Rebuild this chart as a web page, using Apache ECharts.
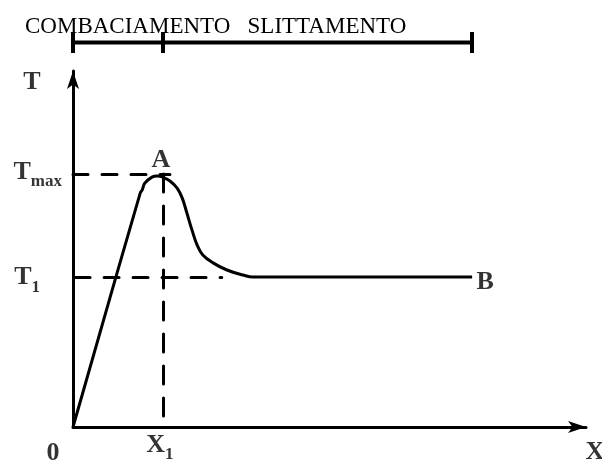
<!DOCTYPE html>
<html>
<head>
<meta charset="utf-8">
<title>Combaciamento / Slittamento</title>
<script src="https://cdn.jsdelivr.net/npm/echarts@6/dist/echarts.min.js"></script>
<style>
  html, body { margin: 0; padding: 0; background: #fff; }
  #chart { width: 602px; height: 464px; }
</style>
</head>
<body>
<div id="chart"></div>
<script>
// schematic values, axis runs 0..10 in both directions
const xMax = 10;
const yMax = 10;
const X1 = 1.75;
const xEnd = 7.78;
const Tmax = 7.11;
const T1 = 4.21;

// curve 0 -> A -> B
const curveX = [0, 1.31, 1.35, 1.40, 1.54, 1.64, 1.75, 1.89, 2.03, 2.13, 2.22, 2.32, 2.42, 2.53, 2.73, 3.00, 3.31, 3.51, 7.78];
const curveY = [0, 6.57, 6.66, 6.85, 7.02, 7.05, 7.02, 6.91, 6.71, 6.43, 6.01, 5.53, 5.11, 4.83, 4.61, 4.41, 4.27, 4.21, 4.21];

// phases on the top bar
const phaseNames = ['COMBACIAMENTO', 'SLITTAMENTO'];
const phaseBounds = [0, X1, xEnd];

const chartDom = document.getElementById('chart');
const chart = echarts.init(chartDom);

const black = '#000';
const serif = 'Liberation Serif';

const labelFont = {
  fontFamily: serif,
  fontWeight: 'bold',
  fontSize: 26,
  color: black
};
const subRich = {
  b: { fontFamily: serif, fontWeight: 'bold', fontSize: 26, lineHeight: 26, verticalAlign: 'top', color: black },
  s: { fontFamily: serif, fontWeight: 'bold', fontSize: 17, lineHeight: 31, verticalAlign: 'bottom', color: black }
};

function textPoint(x, y, text, offset, align) {
  return {
    value: [x, y],
    label: {
      show: true,
      position: 'inside',
      formatter: text,
      offset: offset,
      align: align || 'center',
      verticalAlign: 'middle',
      rich: subRich
    }
  };
}

const labels = [
  textPoint(0, 0, '0', [-20, 26]),
  textPoint(X1, 0, '{b|X}{s|1}', [-3, 21]),
  textPoint(xMax, 0, 'X', [9, 25]),
  textPoint(0, yMax, 'T', [-41, 11]),
  textPoint(0, Tmax, '{b|T}{s|max}', [-11, 1], 'right'),
  textPoint(0, T1, '{b|T}{s|1}', [-33, 3], 'right'),
  textPoint(X1, Tmax, '{b|A}', [-2, -14]),
  textPoint(xEnd, T1, 'B', [13, 5])
];

const dashH = { type: [15, 14], width: 3, color: black, cap: 'round' };
const dashV = { type: [18, 14], width: 3, color: black, cap: 'round' };

const option = {
  animation: false,
  title: {
    text: phaseNames.join('   '),
    left: 20,
    top: 10,
    textStyle: { fontFamily: serif, fontWeight: 'normal', fontSize: 23, color: black }
  },
  grid: [
    { left: 73, right: 16, top: 71, bottom: 37 },
    { left: 73, right: 16, top: 32, height: 21 }
  ],
  xAxis: [
    {
      type: 'value', min: 0, max: xMax,
      axisLine: { show: true, symbol: ['none', 'arrow'], symbolSize: [9, 18], lineStyle: { color: black, width: 3 } },
      axisTick: { show: false },
      axisLabel: { show: false },
      splitLine: { show: false }
    },
    { type: 'value', gridIndex: 1, min: 0, max: xMax, show: false }
  ],
  yAxis: [
    {
      type: 'value', min: 0, max: yMax,
      axisLine: { show: true, symbol: ['none', 'arrow'], symbolSize: [9, 18], lineStyle: { color: black, width: 3 } },
      axisTick: { show: false },
      axisLabel: { show: false },
      splitLine: { show: false }
    },
    { type: 'value', gridIndex: 1, min: 0, max: 1, show: false }
  ],
  series: [
    {
      type: 'line',
      data: curveX.map((x, i) => [x, curveY[i]]),
      smooth: 0.4,
      symbol: 'none',
      lineStyle: { color: black, width: 3 },
      markLine: {
        silent: true,
        symbol: ['none', 'none'],
        label: { show: false },
        data: [
          [{ coord: [0, Tmax], lineStyle: dashH }, { coord: [1.89, Tmax] }],
          [{ coord: [0.04, T1], lineStyle: dashH }, { coord: [2.9, T1] }],
          [{ coord: [X1, Tmax], lineStyle: dashV }, { coord: [X1, 0] }]
        ]
      }
    },
    {
      type: 'line',
      xAxisIndex: 1,
      yAxisIndex: 1,
      data: [[phaseBounds[0], 0.5], [phaseBounds[phaseBounds.length - 1], 0.5]],
      symbol: 'none',
      lineStyle: { color: black, width: 4 },
      markLine: {
        silent: true,
        symbol: ['none', 'none'],
        label: { show: false },
        lineStyle: { type: 'solid', color: black, width: 4 },
        data: phaseBounds.map(v => ({ xAxis: v }))
      }
    },
    {
      type: 'scatter',
      symbolSize: 1,
      clip: false,
      silent: true,
      itemStyle: { color: 'transparent' },
      label: labelFont,
      data: labels
    }
  ]
};

chart.setOption(option);
</script>
</body>
</html>
